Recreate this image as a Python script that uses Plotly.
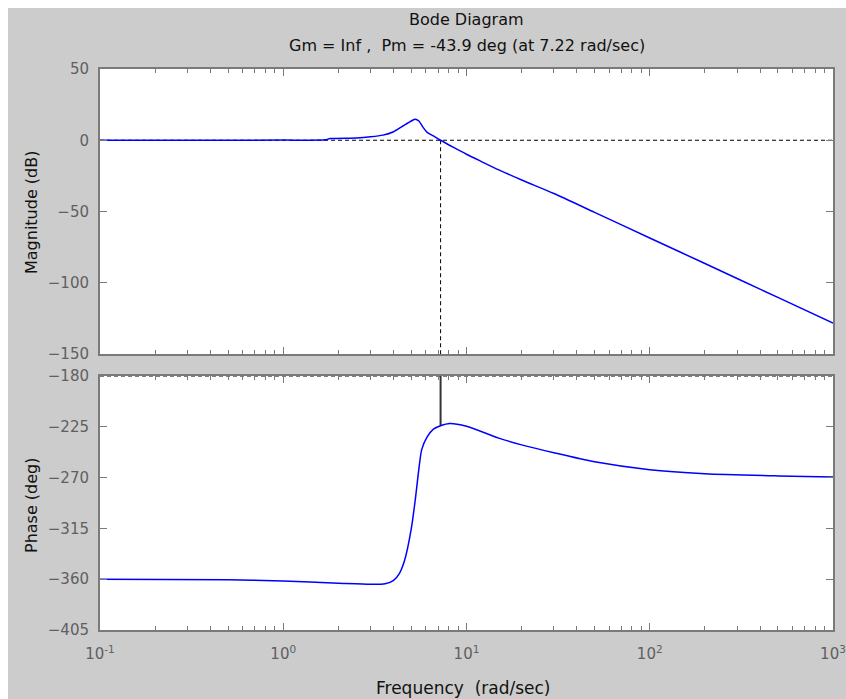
import plotly.graph_objects as go
from plotly.subplots import make_subplots

# Open-loop frequency response (rad/sec, dB, deg)
freq_mag = [0.1, 0.3, 1.0, 1.7, 1.8, 2.5, 3.0, 3.5, 4.0, 4.5, 5.0, 5.25, 5.5, 5.8,
            6.1, 6.6, 7.22, 8.5, 10, 12, 15, 20, 30, 50, 100, 200, 500, 1000]
mag_db = [0, 0, 0.1, 0.3, 1.2, 1.6, 2.4, 3.6, 6, 10, 13.5, 14.8, 13.5, 9,
          5.5, 3, 0, -5.0, -9.8, -14.8, -20.8, -27.9, -37.4, -50.6, -68.6, -86.5,
          -110.3, -128.3]

freq_phase = [0.1, 0.5, 1, 2, 3, 3.6, 4.0, 4.3, 4.6, 5.0, 5.25, 5.5, 5.7, 6.1,
              6.6, 7.22, 8.1, 10, 15, 20, 30, 50, 100, 200, 500, 1000]
phase_deg = [-360, -360.5, -361.5, -363.5, -364.5, -364, -361, -355, -343, -315,
             -290, -262, -245, -234, -227, -224, -222, -224.5, -235, -241, -248,
             -256, -263, -266.5, -268.5, -269.5]

# Stability margins
gain_margin = "Inf"
phase_margin = -43.9
crossover = 7.22
phase_at_crossover = -224

mag_ticks = [-150, -100, -50, 0, 50]
phase_ticks = [-405, -360, -315, -270, -225, -180]
decades = [0.1, 1, 10, 100, 1000]
decade_labels = ["10<sup>-1</sup>", "10<sup>0</sup>", "10<sup>1</sup>",
                 "10<sup>2</sup>", "10<sup>3</sup>"]
minor_vals = [m * d for d in decades[:-1] for m in range(2, 10)]

BG = "#cccccc"
AXIS = "#7a7a7a"
FONT = "DejaVu Sans, Verdana, sans-serif"
TICKFONT = dict(family=FONT, size=15, color="#606060")
TITLEFONT = dict(family=FONT, size=16, color="#111111")
LABELFONT = dict(family=FONT, size=16, color="#111111")
XLABELFONT = dict(family=FONT, size=17, color="#111111")

# figure geometry (px)
W, H = 846, 699
ML, MR, MT, MB = 100, 13, 69, 69
PW, PH = W - ML - MR, H - MT - MB


def py(ypx):
    """pixel row from the top -> paper y"""
    return (H - MB - ypx) / PH


def px(xpx):
    """pixel column from the left -> paper x"""
    return (xpx - ML) / PW


fig = make_subplots(rows=2, cols=1)
fig.update_layout(
    xaxis=dict(domain=[0, 1]), yaxis=dict(domain=[py(354), 1.0]),
    xaxis2=dict(domain=[0, 1]), yaxis2=dict(domain=[0.0, py(376)]),
)

dash = "4px,3px"

# reference lines
fig.add_trace(go.Scatter(x=[0.1, 1000], y=[0, 0], mode="lines",
                         line=dict(color="black", width=1, dash=dash),
                         hoverinfo="skip", showlegend=False), row=1, col=1)
fig.add_trace(go.Scatter(x=[crossover, crossover], y=[0, -150], mode="lines",
                         line=dict(color="black", width=1, dash=dash),
                         hoverinfo="skip", showlegend=False), row=1, col=1)
fig.add_trace(go.Scatter(x=[0.1, 1000], y=[-180, -180], mode="lines",
                         line=dict(color="black", width=1, dash=dash),
                         hoverinfo="skip", showlegend=False), row=2, col=1)
fig.add_trace(go.Scatter(x=[crossover, crossover], y=[-180, phase_at_crossover],
                         mode="lines", line=dict(color="#333333", width=2),
                         hoverinfo="skip", showlegend=False), row=2, col=1)

# response curves
fig.add_trace(go.Scatter(x=freq_mag, y=mag_db, mode="lines",
                         line=dict(color="#0000ff", width=1.5, shape="spline", smoothing=0.7),
                         showlegend=False), row=1, col=1)
fig.add_trace(go.Scatter(x=freq_phase, y=phase_deg, mode="lines",
                         line=dict(color="#0000ff", width=1.5, shape="spline", smoothing=0.7),
                         showlegend=False), row=2, col=1)

common_x = dict(type="log", range=[-1, 3], showgrid=False, zeroline=False,
                showline=True, linecolor=AXIS, linewidth=2, mirror="ticks",
                ticks="inside", ticklen=7, tickcolor=AXIS, tickwidth=1,
                tickvals=decades, automargin=False,
                minor=dict(tickvals=minor_vals, ticks="inside", ticklen=4,
                           tickcolor=AXIS, tickwidth=1, showgrid=False))
common_y = dict(showgrid=False, zeroline=False, showline=True, linecolor=AXIS,
                linewidth=2, mirror="ticks", ticks="inside", ticklen=7,
                tickcolor=AXIS, tickwidth=1, tickfont=TICKFONT,
                ticklabelstandoff=6, automargin=False)

fig.update_xaxes(**common_x, showticklabels=False, row=1, col=1)
fig.update_xaxes(**common_x, ticktext=decade_labels, tickfont=TICKFONT,
                 ticklabelstandoff=9, row=2, col=1)
fig.update_yaxes(**common_y, range=[-150, 50], tickvals=mag_ticks, row=1, col=1)
fig.update_yaxes(**common_y, range=[-405, -180], tickvals=phase_ticks, row=2, col=1)

title_line1 = "Bode Diagram"
title_line2 = ("Gm = %s ,\u00a0 Pm = %.1f deg (at %.2f rad/sec)"
               % (gain_margin, phase_margin, crossover))

annotations = [
    dict(text=title_line1, x=0.5, y=py(20), font=TITLEFONT),
    dict(text=title_line2, x=0.5, y=py(45), font=TITLEFONT),
    dict(text="Frequency\u00a0 (rad/sec)", x=px(463), y=py(688), font=XLABELFONT),
    dict(text="Magnitude (dB)", x=px(31), y=py(213), font=LABELFONT, textangle=-90),
    dict(text="Phase (deg)", x=px(31), y=py(505), font=LABELFONT, textangle=-90),
]
for a in annotations:
    a.update(xref="paper", yref="paper", xanchor="center", yanchor="middle",
             showarrow=False)

fig.update_layout(
    width=W, height=H, autosize=False,
    margin=dict(l=ML, r=MR, t=MT, b=MB, autoexpand=False),
    paper_bgcolor=BG, plot_bgcolor="white",
    showlegend=False,
    annotations=annotations,
    shapes=[
        dict(type="rect", xref="paper", yref="paper", x0=px(0), x1=px(8),
             y0=py(H), y1=py(0), fillcolor="white", line=dict(width=0), layer="below"),
        dict(type="rect", xref="paper", yref="paper", x0=px(0), x1=px(W),
             y0=py(8), y1=py(0), fillcolor="white", line=dict(width=0), layer="below"),
    ],
)

fig.write_html("out.html", config={"responsive": False})
